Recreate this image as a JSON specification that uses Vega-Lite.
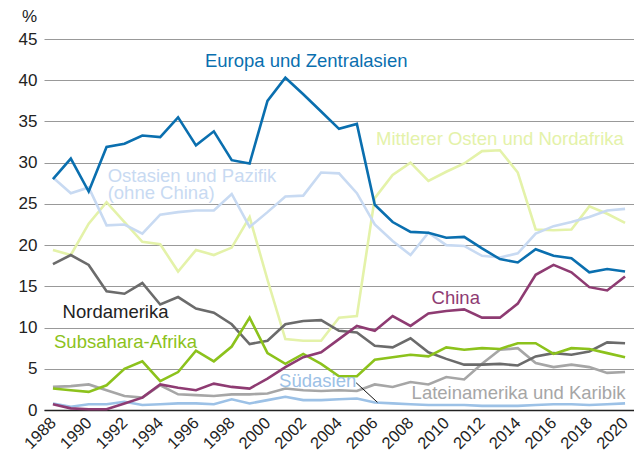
{
"$schema": "https://vega.github.io/schema/vega-lite/v6.json",
"width": 590, "height": 371,
"autosize": {"type": "none"},
"padding": {"left": 44, "top": 39, "right": 0, "bottom": 47},
"config": {"view": {"stroke": null}, "font": "Liberation Sans"},
"datasets": {
"lines": [
{"s":"LA","x":1988,"v":2.8},{"s":"LA","x":1989,"v":2.9},{"s":"LA","x":1990,"v":3.1},{"s":"LA","x":1991,"v":2.4},{"s":"LA","x":1992,"v":1.7},{"s":"LA","x":1993,"v":1.5},{"s":"LA","x":1994,"v":3.0},{"s":"LA","x":1995,"v":1.9},{"s":"LA","x":1996,"v":1.8},{"s":"LA","x":1997,"v":1.7},{"s":"LA","x":1998,"v":1.9},{"s":"LA","x":1999,"v":1.9},{"s":"LA","x":2000,"v":2.0},{"s":"LA","x":2001,"v":2.6},{"s":"LA","x":2002,"v":2.4},{"s":"LA","x":2003,"v":2.3},{"s":"LA","x":2004,"v":2.4},{"s":"LA","x":2005,"v":2.3},{"s":"LA","x":2006,"v":3.1},{"s":"LA","x":2007,"v":2.8},{"s":"LA","x":2008,"v":3.4},{"s":"LA","x":2009,"v":3.1},{"s":"LA","x":2010,"v":4.0},{"s":"LA","x":2011,"v":3.7},{"s":"LA","x":2012,"v":5.6},{"s":"LA","x":2013,"v":7.3},{"s":"LA","x":2014,"v":7.5},{"s":"LA","x":2015,"v":5.7},{"s":"LA","x":2016,"v":5.2},{"s":"LA","x":2017,"v":5.5},{"s":"LA","x":2018,"v":5.2},{"s":"LA","x":2019,"v":4.5},{"s":"LA","x":2020,"v":4.6},
{"s":"SA","x":1988,"v":0.8},{"s":"SA","x":1989,"v":0.4},{"s":"SA","x":1990,"v":0.7},{"s":"SA","x":1991,"v":0.7},{"s":"SA","x":1992,"v":1.0},{"s":"SA","x":1993,"v":0.6},{"s":"SA","x":1994,"v":0.7},{"s":"SA","x":1995,"v":0.8},{"s":"SA","x":1996,"v":0.8},{"s":"SA","x":1997,"v":0.7},{"s":"SA","x":1998,"v":1.3},{"s":"SA","x":1999,"v":0.8},{"s":"SA","x":2000,"v":1.2},{"s":"SA","x":2001,"v":1.6},{"s":"SA","x":2002,"v":1.2},{"s":"SA","x":2003,"v":1.2},{"s":"SA","x":2004,"v":1.3},{"s":"SA","x":2005,"v":1.4},{"s":"SA","x":2006,"v":0.9},{"s":"SA","x":2007,"v":0.8},{"s":"SA","x":2008,"v":0.7},{"s":"SA","x":2009,"v":0.6},{"s":"SA","x":2010,"v":0.6},{"s":"SA","x":2011,"v":0.6},{"s":"SA","x":2012,"v":0.5},{"s":"SA","x":2013,"v":0.5},{"s":"SA","x":2014,"v":0.5},{"s":"SA","x":2015,"v":0.6},{"s":"SA","x":2016,"v":0.7},{"s":"SA","x":2017,"v":0.7},{"s":"SA","x":2018,"v":0.6},{"s":"SA","x":2019,"v":0.7},{"s":"SA","x":2020,"v":0.8},
{"s":"ME","x":1988,"v":19.4},{"s":"ME","x":1989,"v":18.8},{"s":"ME","x":1990,"v":22.6},{"s":"ME","x":1991,"v":25.2},{"s":"ME","x":1992,"v":22.8},{"s":"ME","x":1993,"v":20.4},{"s":"ME","x":1994,"v":20.1},{"s":"ME","x":1995,"v":16.8},{"s":"ME","x":1996,"v":19.4},{"s":"ME","x":1997,"v":18.8},{"s":"ME","x":1998,"v":19.7},{"s":"ME","x":1999,"v":23.4},{"s":"ME","x":2000,"v":15.8},{"s":"ME","x":2001,"v":8.6},{"s":"ME","x":2002,"v":8.4},{"s":"ME","x":2003,"v":8.4},{"s":"ME","x":2004,"v":11.2},{"s":"ME","x":2005,"v":11.4},{"s":"ME","x":2006,"v":25.7},{"s":"ME","x":2007,"v":28.5},{"s":"ME","x":2008,"v":30.0},{"s":"ME","x":2009,"v":27.8},{"s":"ME","x":2010,"v":28.9},{"s":"ME","x":2011,"v":29.9},{"s":"ME","x":2012,"v":31.4},{"s":"ME","x":2013,"v":31.5},{"s":"ME","x":2014,"v":28.8},{"s":"ME","x":2015,"v":21.9},{"s":"ME","x":2016,"v":21.8},{"s":"ME","x":2017,"v":21.9},{"s":"ME","x":2018,"v":24.7},{"s":"ME","x":2019,"v":23.8},{"s":"ME","x":2020,"v":22.7},
{"s":"OA","x":1988,"v":28.2},{"s":"OA","x":1989,"v":26.3},{"s":"OA","x":1990,"v":27.0},{"s":"OA","x":1991,"v":22.4},{"s":"OA","x":1992,"v":22.5},{"s":"OA","x":1993,"v":21.4},{"s":"OA","x":1994,"v":23.7},{"s":"OA","x":1995,"v":24.0},{"s":"OA","x":1996,"v":24.2},{"s":"OA","x":1997,"v":24.2},{"s":"OA","x":1998,"v":26.2},{"s":"OA","x":1999,"v":22.2},{"s":"OA","x":2000,"v":24.0},{"s":"OA","x":2001,"v":25.9},{"s":"OA","x":2002,"v":26.0},{"s":"OA","x":2003,"v":28.8},{"s":"OA","x":2004,"v":28.7},{"s":"OA","x":2005,"v":26.3},{"s":"OA","x":2006,"v":22.5},{"s":"OA","x":2007,"v":20.5},{"s":"OA","x":2008,"v":18.8},{"s":"OA","x":2009,"v":21.5},{"s":"OA","x":2010,"v":20.0},{"s":"OA","x":2011,"v":19.9},{"s":"OA","x":2012,"v":18.7},{"s":"OA","x":2013,"v":18.5},{"s":"OA","x":2014,"v":19.0},{"s":"OA","x":2015,"v":21.4},{"s":"OA","x":2016,"v":22.3},{"s":"OA","x":2017,"v":22.8},{"s":"OA","x":2018,"v":23.4},{"s":"OA","x":2019,"v":24.2},{"s":"OA","x":2020,"v":24.4},
{"s":"NA","x":1988,"v":17.7},{"s":"NA","x":1989,"v":18.8},{"s":"NA","x":1990,"v":17.6},{"s":"NA","x":1991,"v":14.4},{"s":"NA","x":1992,"v":14.1},{"s":"NA","x":1993,"v":15.4},{"s":"NA","x":1994,"v":12.8},{"s":"NA","x":1995,"v":13.7},{"s":"NA","x":1996,"v":12.3},{"s":"NA","x":1997,"v":11.8},{"s":"NA","x":1998,"v":10.4},{"s":"NA","x":1999,"v":8.0},{"s":"NA","x":2000,"v":8.4},{"s":"NA","x":2001,"v":10.4},{"s":"NA","x":2002,"v":10.8},{"s":"NA","x":2003,"v":10.9},{"s":"NA","x":2004,"v":9.6},{"s":"NA","x":2005,"v":9.4},{"s":"NA","x":2006,"v":7.8},{"s":"NA","x":2007,"v":7.6},{"s":"NA","x":2008,"v":8.7},{"s":"NA","x":2009,"v":7.0},{"s":"NA","x":2010,"v":6.2},{"s":"NA","x":2011,"v":5.5},{"s":"NA","x":2012,"v":5.5},{"s":"NA","x":2013,"v":5.6},{"s":"NA","x":2014,"v":5.4},{"s":"NA","x":2015,"v":6.5},{"s":"NA","x":2016,"v":6.9},{"s":"NA","x":2017,"v":6.7},{"s":"NA","x":2018,"v":7.1},{"s":"NA","x":2019,"v":8.2},{"s":"NA","x":2020,"v":8.1},
{"s":"SS","x":1988,"v":2.6},{"s":"SS","x":1989,"v":2.4},{"s":"SS","x":1990,"v":2.2},{"s":"SS","x":1991,"v":3.0},{"s":"SS","x":1992,"v":5.0},{"s":"SS","x":1993,"v":5.9},{"s":"SS","x":1994,"v":3.5},{"s":"SS","x":1995,"v":4.6},{"s":"SS","x":1996,"v":7.2},{"s":"SS","x":1997,"v":5.9},{"s":"SS","x":1998,"v":7.7},{"s":"SS","x":1999,"v":11.2},{"s":"SS","x":2000,"v":6.9},{"s":"SS","x":2001,"v":5.6},{"s":"SS","x":2002,"v":6.8},{"s":"SS","x":2003,"v":5.6},{"s":"SS","x":2004,"v":4.1},{"s":"SS","x":2005,"v":4.1},{"s":"SS","x":2006,"v":6.1},{"s":"SS","x":2007,"v":6.4},{"s":"SS","x":2008,"v":6.7},{"s":"SS","x":2009,"v":6.5},{"s":"SS","x":2010,"v":7.6},{"s":"SS","x":2011,"v":7.3},{"s":"SS","x":2012,"v":7.5},{"s":"SS","x":2013,"v":7.4},{"s":"SS","x":2014,"v":8.1},{"s":"SS","x":2015,"v":8.1},{"s":"SS","x":2016,"v":6.8},{"s":"SS","x":2017,"v":7.5},{"s":"SS","x":2018,"v":7.4},{"s":"SS","x":2019,"v":6.9},{"s":"SS","x":2020,"v":6.4},
{"s":"CN","x":1988,"v":0.7},{"s":"CN","x":1989,"v":0.2},{"s":"CN","x":1990,"v":0.1},{"s":"CN","x":1991,"v":0.1},{"s":"CN","x":1992,"v":0.8},{"s":"CN","x":1993,"v":1.5},{"s":"CN","x":1994,"v":3.1},{"s":"CN","x":1995,"v":2.7},{"s":"CN","x":1996,"v":2.4},{"s":"CN","x":1997,"v":3.2},{"s":"CN","x":1998,"v":2.8},{"s":"CN","x":1999,"v":2.6},{"s":"CN","x":2000,"v":3.8},{"s":"CN","x":2001,"v":5.2},{"s":"CN","x":2002,"v":6.4},{"s":"CN","x":2003,"v":7.0},{"s":"CN","x":2004,"v":8.6},{"s":"CN","x":2005,"v":10.2},{"s":"CN","x":2006,"v":9.6},{"s":"CN","x":2007,"v":11.4},{"s":"CN","x":2008,"v":10.2},{"s":"CN","x":2009,"v":11.7},{"s":"CN","x":2010,"v":12.0},{"s":"CN","x":2011,"v":12.2},{"s":"CN","x":2012,"v":11.2},{"s":"CN","x":2013,"v":11.2},{"s":"CN","x":2014,"v":12.9},{"s":"CN","x":2015,"v":16.4},{"s":"CN","x":2016,"v":17.6},{"s":"CN","x":2017,"v":16.7},{"s":"CN","x":2018,"v":14.9},{"s":"CN","x":2019,"v":14.5},{"s":"CN","x":2020,"v":16.2},
{"s":"EU","x":1988,"v":28.0},{"s":"EU","x":1989,"v":30.5},{"s":"EU","x":1990,"v":26.5},{"s":"EU","x":1991,"v":31.9},{"s":"EU","x":1992,"v":32.3},{"s":"EU","x":1993,"v":33.3},{"s":"EU","x":1994,"v":33.1},{"s":"EU","x":1995,"v":35.5},{"s":"EU","x":1996,"v":32.1},{"s":"EU","x":1997,"v":33.8},{"s":"EU","x":1998,"v":30.3},{"s":"EU","x":1999,"v":29.9},{"s":"EU","x":2000,"v":37.5},{"s":"EU","x":2001,"v":40.3},{"s":"EU","x":2002,"v":38.3},{"s":"EU","x":2003,"v":36.2},{"s":"EU","x":2004,"v":34.1},{"s":"EU","x":2005,"v":34.7},{"s":"EU","x":2006,"v":24.9},{"s":"EU","x":2007,"v":22.8},{"s":"EU","x":2008,"v":21.6},{"s":"EU","x":2009,"v":21.5},{"s":"EU","x":2010,"v":20.9},{"s":"EU","x":2011,"v":21.0},{"s":"EU","x":2012,"v":19.6},{"s":"EU","x":2013,"v":18.3},{"s":"EU","x":2014,"v":17.9},{"s":"EU","x":2015,"v":19.5},{"s":"EU","x":2016,"v":18.7},{"s":"EU","x":2017,"v":18.4},{"s":"EU","x":2018,"v":16.7},{"s":"EU","x":2019,"v":17.1},{"s":"EU","x":2020,"v":16.8}
],
"labels": [
{"s":"EU","t":"Europa und Zentralasien","x":1996.5,"v":41.6},
{"s":"ME","t":"Mittlerer Osten und Nordafrika","x":2006.07,"v":32.2},
{"s":"OA","t":"Ostasien und Pazifik\n(ohne China)","x":1991.06,"v":27.7},
{"s":"NA","t":"Nordamerika","x":1988.54,"v":11.2},
{"s":"SS","t":"Subsahara-Afrika","x":1988.06,"v":7.5},
{"s":"CN","t":"China","x":2009.18,"v":12.9},
{"s":"SA","t":"Südasien","x":2000.65,"v":2.8},
{"s":"LA","t":"Lateinamerika und Karibik","x":2008.06,"v":1.3}
],
"leader": [
{"x":2004.96,"v":3.3,"x2":2006.15,"v2":0.93}
]
},
"layer": [
{
"data": {"name": "lines"},
"mark": {"type": "line", "strokeWidth": 2.6},
"encoding": {
"x": {"field": "x", "type": "quantitative",
 "scale": {"domain": [1987.5, 2020.5], "nice": false, "zero": false},
 "axis": {"values": [1988,1990,1992,1994,1996,1998,2000,2002,2004,2006,2008,2010,2012,2014,2016,2018,2020],
  "tickCount": 40,
  "format": "d", "title": null, "grid": false, "ticks": false, "labelOverlap": false,
  "domain": true, "domainColor": "#222222", "domainWidth": 1.5,
  "labelAngle": -45, "labelAlign": "right", "labelBaseline": "middle",
  "labelFontSize": 16.5, "labelColor": "#222222", "labelPadding": 10, "labelFlush": false}},
"y": {"field": "v", "type": "quantitative",
 "scale": {"domain": [0, 45], "nice": false},
 "axis": {"values": [0,5,10,15,20,25,30,35,40,45], "tickCount": 20, "grid": true, "gridColor": "#999999", "gridWidth": 1.2,
  "ticks": false, "domain": false, "labelFontSize": 17, "labelColor": "#222222", "labelPadding": 7,
  "title": "%", "titleAngle": 0, "titleFontSize": 17, "titleFontWeight": "normal", "titleColor": "#222222",
  "titleAlign": "center", "titleBaseline": "middle", "titleX": -15, "titleY": -23}},
"color": {"field": "s", "type": "nominal", "legend": null,
 "scale": {"domain": ["LA","SA","ME","OA","NA","SS","CN","EU"],
  "range": ["#a6a6a6","#9cc1e6","#e4f2a9","#c8daf2","#6b6b6b","#8cc21c","#8e3b72","#0a6faf"]}}
}
},
{
"data": {"name": "leader"},
"mark": {"type": "rule", "color": "#111111", "strokeWidth": 1},
"encoding": {
"x": {"field": "x", "type": "quantitative"},
"y": {"field": "v", "type": "quantitative"},
"x2": {"field": "x2"},
"y2": {"field": "v2"}
}
},
{
"data": {"name": "labels"},
"mark": {"type": "text", "fontSize": 18.5, "align": "left", "baseline": "alphabetic", "lineBreak": "\n", "lineHeight": 17.8},
"encoding": {
"x": {"field": "x", "type": "quantitative"},
"y": {"field": "v", "type": "quantitative"},
"text": {"field": "t"},
"color": {"field": "s", "type": "nominal", "legend": null,
 "scale": {"domain": ["LA","SA","ME","OA","NA","SS","CN","EU"],
  "range": ["#a6a6a6","#9cc1e6","#e4f2a9","#c8daf2","#222222","#8cc21c","#8e3b72","#0a6faf"]}}
}
}
],
"resolve": {"scale": {"color": "independent"}}
}
